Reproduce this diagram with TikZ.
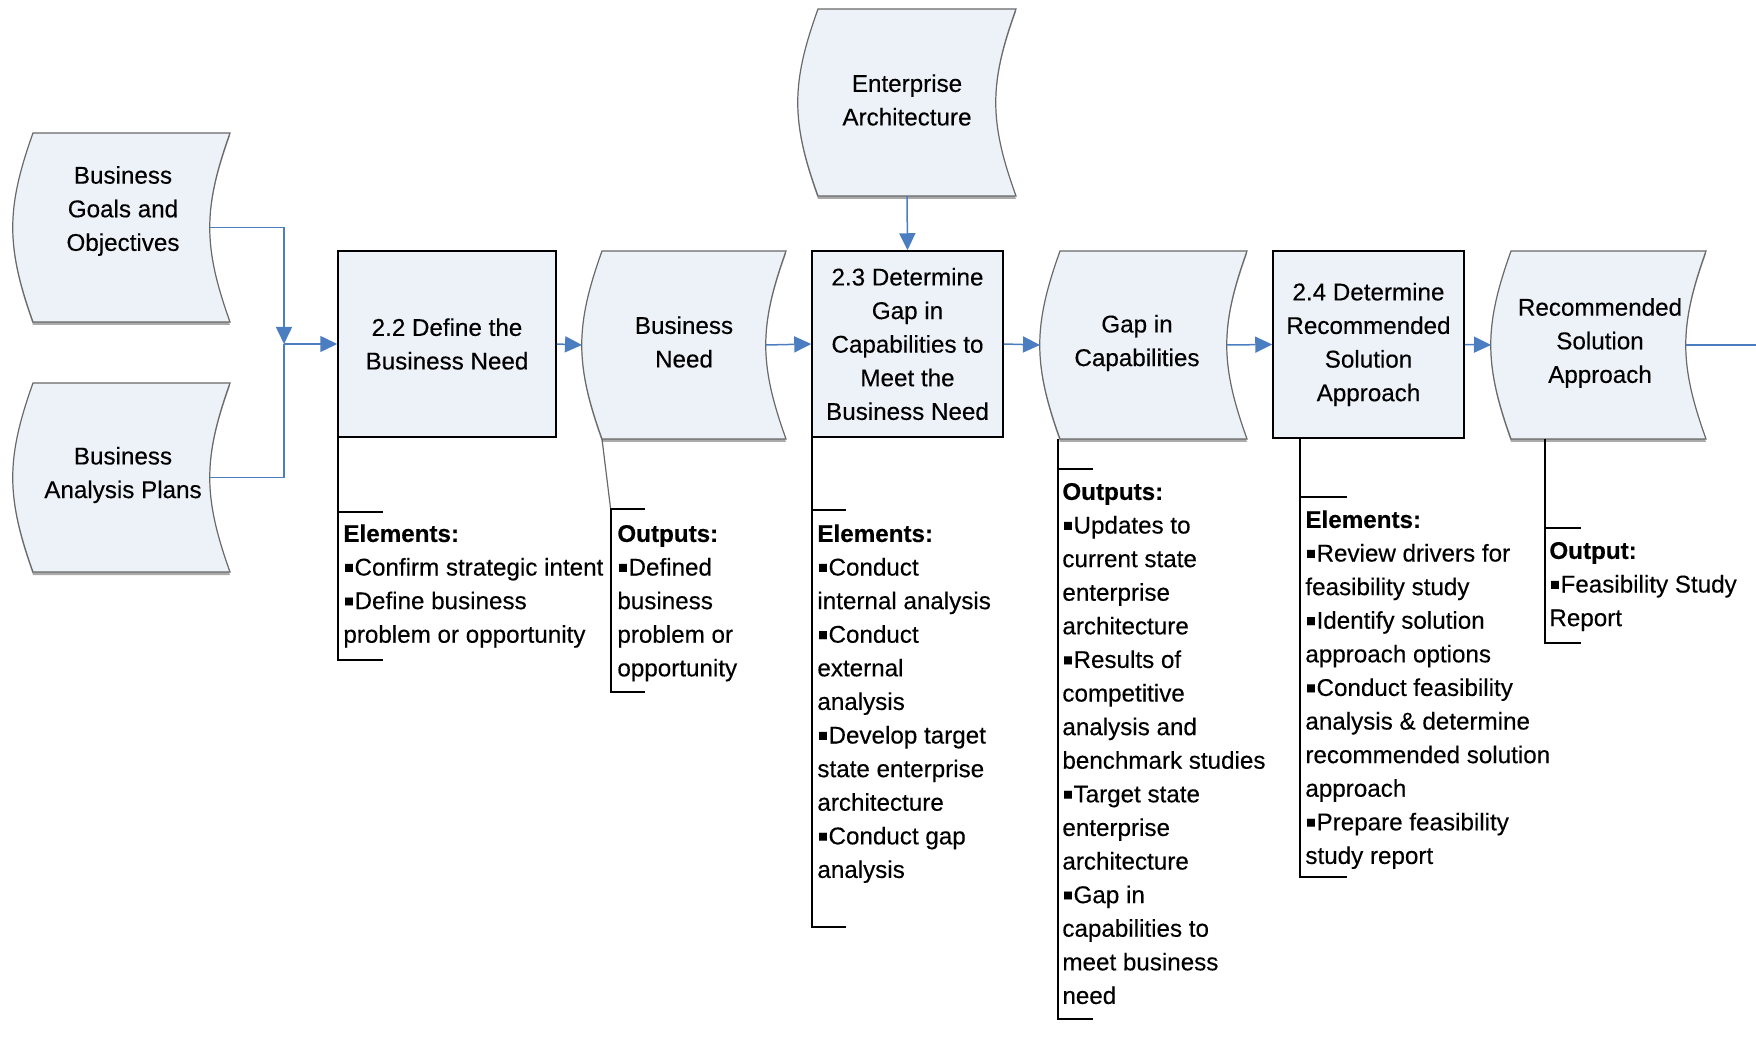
\documentclass[tikz,border=0pt]{standalone}
\usepackage{fontspec}
\setmainfont{Liberation Sans}[FakeBold=0.3]
\usetikzlibrary{arrows.meta}

\definecolor{docfill}{RGB}{237,242,248}
\definecolor{flowblue}{RGB}{74,126,193}
\definecolor{docline}{RGB}{105,105,105}
\definecolor{docshade}{RGB}{170,170,170}

\newcommand\lab{\fontsize{12.1}{16.8}\selectfont}
\newcommand\bul{\raisebox{-0.09em}{\scalebox{1.3}{▪}}}

% document-style shape: straight top and bottom, both sides bowed to the left
% #1 name, #2 left x, #3 right x, #4 top y, #5 bottom y
\newcommand\docshape[5]{%
  \fill[docshade, shift={(0,3)}] (#2,#4) -- (#3,#4)
    .. controls ({#3-27},{#4+0.4*(#5-#4)}) and ({#3-27},{#5-0.4*(#5-#4)}) .. (#3,#5)
    -- (#2,#5)
    .. controls ({#2-27},{#5-0.4*(#5-#4)}) and ({#2-27},{#4+0.4*(#5-#4)}) .. (#2,#4) -- cycle;
  \filldraw[fill=docfill, draw=docline, line width=0.6pt] (#2,#4) -- (#3,#4)
    .. controls ({#3-27},{#4+0.4*(#5-#4)}) and ({#3-27},{#5-0.4*(#5-#4)}) .. (#3,#5)
    -- (#2,#5)
    .. controls ({#2-27},{#5-0.4*(#5-#4)}) and ({#2-27},{#4+0.4*(#5-#4)}) .. (#2,#4) -- cycle;
  \coordinate (#1-w) at ({#2-20},{(#4+#5)/2});
  \coordinate (#1-e) at ({#3-20},{(#4+#5)/2});
  \coordinate (#1-s) at ({(#2+#3)/2-10},#5);
  \coordinate (#1-sw) at (#2,#5);
}

\begin{document}
\begin{tikzpicture}[x=0.5pt, y=-0.5pt,
  task/.style={draw=black, line width=0.75pt, fill=docfill, align=center,
    font=\lab, inner sep=2pt},
  label/.style={align=center, font=\lab, inner sep=0pt},
  note/.style={align=left, font=\lab, inner sep=0pt, anchor=north west},
  flow/.style={draw=flowblue, line width=0.75pt, -{Triangle[length=8.5pt,width=8pt]}},
  link/.style={draw=flowblue, line width=0.75pt},
  brk/.style={draw=black, line width=0.7pt},
  tether/.style={draw=docline, line width=0.6pt}]
\useasboundingbox (0,0) rectangle (1756,1037);

% inputs, outputs and intermediate artefacts
\docshape{bgo}{33}{230}{133}{322}
\docshape{bap}{33}{230}{383}{572}
\docshape{ea}{818}{1016}{9}{196}
\docshape{bn}{602}{786}{251}{439}
\docshape{gic}{1060}{1247}{251}{439}
\docshape{rsa}{1511}{1706}{251}{439}

\node[label] (bgo-t) at (123,211) {Business\\Goals and\\Objectives};
\node[label] (bap-t) at (123,475) {Business\\Analysis Plans};
\node[label] (ea-t) at (907,100) {Enterprise\\Architecture};
\node[label] (bn-t) at (684,342) {Business\\Need};
\node[label] (gic-t) at (1137,343) {Gap in\\Capabilities};
\node[label] (rsa-t) at (1600,343) {Recommended\\Solution\\Approach};

% tasks
\node[task, minimum width=109pt, minimum height=93pt] (b22) at (447,344)
  {2.2 Define the\\Business Need};
\node[task, minimum width=95.5pt, minimum height=93pt] (b23) at (907.5,344)
  {2.3 Determine\\Gap in\\Capabilities to\\Meet the\\Business Need};
\node[task, minimum width=95.5pt, minimum height=93.5pt] (b24) at (1368.5,344.5)
  {2.4 Determine\\Recommended\\Solution\\Approach};

% flow
\coordinate (j) at (284,344);
\coordinate (exit) at (1756,345);
\draw[flow] (bgo-e) -| (j);
\draw[link] (bap-e) -| (j);
\draw[flow] (j) -- (b22.west);
\draw[flow] (b22.east) -- (bn-w);
\draw[flow] (bn-e) -- (b23.west);
\draw[flow] (ea-s) -- (b23.north);
\draw[flow] (b23.east) -- (gic-w);
\draw[flow] (gic-e) -- (b24.west);
\draw[flow] (b24.east) -- (rsa-w);
\draw[link] (rsa-e) -- (exit);

% annotation brackets
\draw[brk] (338,437) -- (338,660) -- (383,660);
\draw[brk] (338,512) -- (383,512);
\draw[tether] (bn-sw) -- (611,512);
\draw[brk] (645,509) -- (611,509) -- (611,692) -- (645,692);
\draw[brk] (812,437) -- (812,927) -- (846,927);
\draw[brk] (812,510) -- (846,510);
\draw[brk] (1058,439) -- (1058,1019) -- (1093,1019);
\draw[brk] (1058,469) -- (1093,469);
\draw[brk] (1300,438) -- (1300,877) -- (1347,877);
\draw[brk] (1300,497) -- (1347,497);
\draw[brk] (1545,439) -- (1545,643) -- (1581,643);
\draw[brk] (1545,528) -- (1581,528);

% annotation texts
\node[note] (n22) at (343,518) {\strut\textbf{Elements:}\\
  \bul Confirm strategic intent\\ \bul Define business\\ problem or opportunity};
\node[note] (nbn) at (617,518) {\strut\textbf{Outputs:}\\
  \bul Defined\\ business\\ problem or\\ opportunity};
\node[note] (n23) at (817,518) {\strut\textbf{Elements:}\\
  \bul Conduct\\ internal analysis\\ \bul Conduct\\ external\\ analysis\\
  \bul Develop target\\ state enterprise\\ architecture\\ \bul Conduct gap\\ analysis};
\node[note] (ngic) at (1062,476) {\strut\textbf{Outputs:}\\
  \bul Updates to\\ current state\\ enterprise\\ architecture\\
  \bul Results of\\ competitive\\ analysis and\\ benchmark studies\\
  \bul Target state\\ enterprise\\ architecture\\
  \bul Gap in\\ capabilities to\\ meet business\\ need};
\node[note] (n24) at (1305,504) {\strut\textbf{Elements:}\\
  \bul Review drivers for\\ feasibility study\\ \bul Identify solution\\ approach options\\
  \bul Conduct feasibility\\ analysis \& determine\\ recommended solution\\ approach\\
  \bul Prepare feasibility\\ study report};
\node[note] (nrsa) at (1549,535) {\strut\textbf{Output:}\\
  \bul Feasibility Study\\ Report};
\end{tikzpicture}
\end{document}
